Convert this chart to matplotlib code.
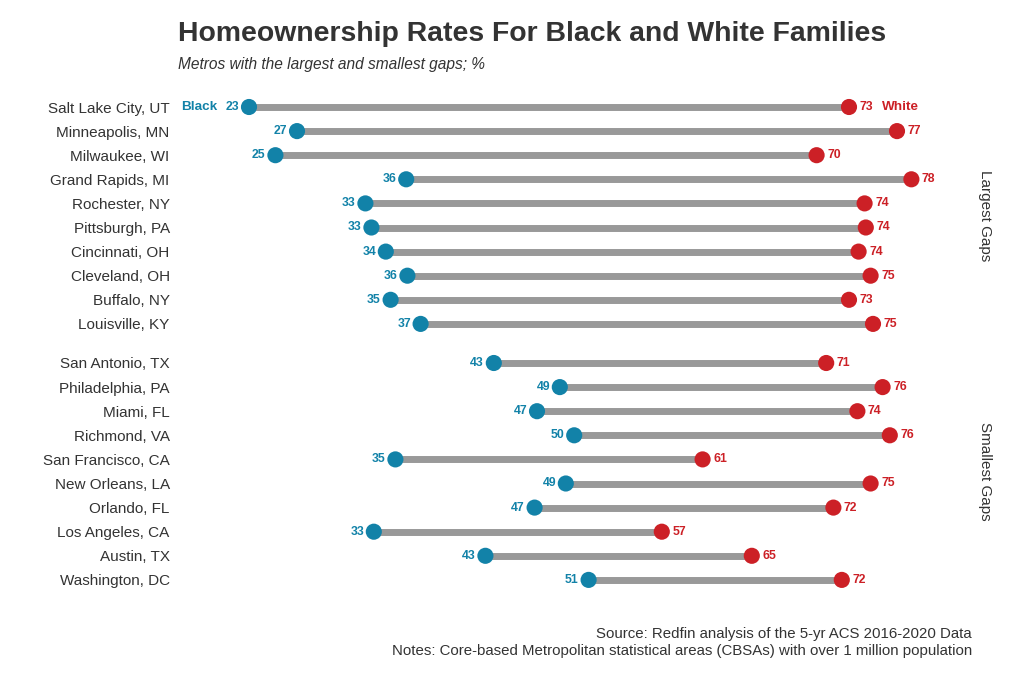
import matplotlib
matplotlib.use("Agg")
import matplotlib.pyplot as plt

plt.rcParams['font.family'] = ['Liberation Sans', 'DejaVu Sans']

largest_cities = ["Salt Lake City, UT", "Minneapolis, MN", "Milwaukee, WI", "Grand Rapids, MI",
                  "Rochester, NY", "Pittsburgh, PA", "Cincinnati, OH", "Cleveland, OH",
                  "Buffalo, NY", "Louisville, KY"]
largest_black = [23.0, 27.0, 25.2, 36.1, 32.7, 33.2, 34.4, 36.2, 34.8, 37.3]
largest_white = [73.0, 77.0, 70.3, 78.2, 74.3, 74.4, 73.8, 74.8, 73.0, 75.0]

smallest_cities = ["San Antonio, TX", "Philadelphia, PA", "Miami, FL", "Richmond, VA",
                   "San Francisco, CA", "New Orleans, LA", "Orlando, FL", "Los Angeles, CA",
                   "Austin, TX", "Washington, DC"]
smallest_black = [43.4, 48.9, 47.0, 50.1, 35.2, 49.4, 46.8, 33.4, 42.7, 51.3]
smallest_white = [71.1, 75.8, 73.7, 76.4, 60.8, 74.8, 71.7, 57.4, 64.9, 72.4]

panel_titles = ["Largest Gaps", "Smallest Gaps"]

BLUE = "#1282A8"
RED = "#CC2026"
GRAY = "#999999"
TXT = "#333333"

W, H = 1024, 682
fig = plt.figure(figsize=(W / 100, H / 100), dpi=100)

# pixel geometry
x_left_px, x_right_px = 178, 960
row_px = 24.1
def ax_rect(top_row_px):
    top = top_row_px - 0.6 * row_px
    bottom = top_row_px + 9.6 * row_px
    return [x_left_px / W, 1 - bottom / H, (x_right_px - x_left_px) / W, (bottom - top) / H]

xmin = 23 - (249 - x_left_px) / 12.0
xmax = 23 + (x_right_px - 249) / 12.0

panels = [
    (largest_cities, largest_black, largest_white, 107),
    (smallest_cities, smallest_black, smallest_white, 363),
]

for i, (cities, blk, wht, top_px) in enumerate(panels):
    ax = fig.add_axes(ax_rect(top_px))
    ys = list(range(len(cities)))
    for y, b, w in zip(ys, blk, wht):
        ax.plot([b, w], [y, y], color=GRAY, lw=5.0, solid_capstyle='butt', zorder=1)
    ax.scatter(blk, ys, s=135, color=BLUE, zorder=3, edgecolors='none')
    ax.scatter(wht, ys, s=135, color=RED, zorder=3, edgecolors='none')
    for y, b, w in zip(ys, blk, wht):
        ax.annotate(f"{round(b)}", (b, y), xytext=(-7, 0), textcoords='offset points',
                    ha='right', va='center', fontsize=8.8, fontweight='bold', color=BLUE)
        ax.annotate(f"{round(w)}", (w, y), xytext=(7.6, 0), textcoords='offset points',
                    ha='left', va='center', fontsize=8.8, fontweight='bold', color=RED)
    if i == 0:
        ax.annotate("Black", (blk[0], 0), xytext=(-22.5, 0), textcoords='offset points',
                    ha='right', va='center', fontsize=9.7, fontweight='bold', color=BLUE)
        ax.annotate("White", (wht[0], 0), xytext=(23.5, 0), textcoords='offset points',
                    ha='left', va='center', fontsize=9.7, fontweight='bold', color=RED)
    ax.set_xlim(xmin, xmax)
    ax.set_ylim(len(cities) - 0.4, -0.6)
    ax.set_yticks(ys)
    ax.set_yticklabels(cities, fontsize=11, color=TXT)
    ax.tick_params(axis='y', length=0, pad=6)
    ax.set_xticks([])
    for s in ax.spines.values():
        s.set_visible(False)
    ax.text(1.0 + 25 / (x_right_px - x_left_px), 0.5, panel_titles[i], transform=ax.transAxes,
            rotation=-90, ha='center', va='center', fontsize=11, color=TXT)

fig.text(178 / W, 1 - 34 / H, "Homeownership Rates For Black and White Families",
         fontsize=20.4, fontweight='bold', color=TXT, ha='left', va='center')
fig.text(178 / W, 1 - 65 / H, "Metros with the largest and smallest gaps; %",
         fontsize=11.2, style='italic', color=TXT, ha='left', va='center')
fig.text(972 / W, 1 - 634 / H, "Source: Redfin analysis of the 5-yr ACS 2016-2020 Data",
         fontsize=10.8, color=TXT, ha='right', va='center')
fig.text(972 / W, 1 - 651 / H,
         "Notes: Core-based Metropolitan statistical areas (CBSAs) with over 1 million population",
         fontsize=10.8, color=TXT, ha='right', va='center')

fig.savefig("out.png", dpi=100, facecolor='white')
